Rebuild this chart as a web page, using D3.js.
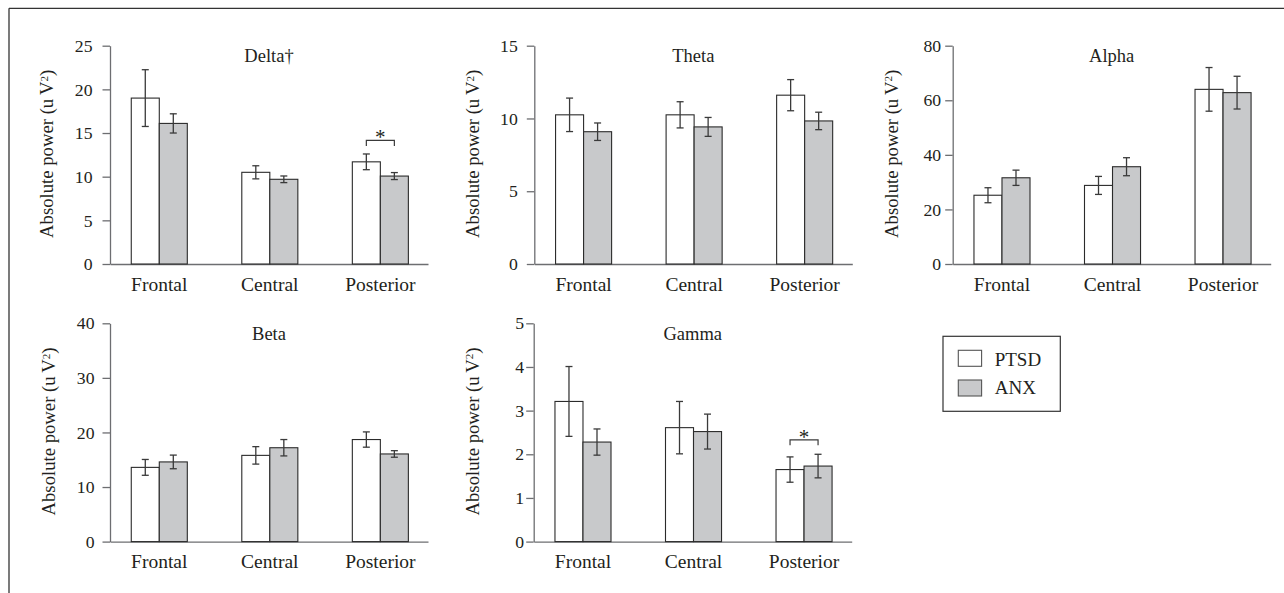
<!DOCTYPE html>
<html>
  <head>
    <meta charset="utf-8">
    <title>Absolute power by region, PTSD vs ANX</title>
    <script src="https://d3js.org/d3.v7.min.js"></script>
    <style>
      body { margin: 0; background: #fff; }
      svg text { font-family: "Liberation Serif", "Tinos", "Times New Roman", "DejaVu Serif", "Noto Serif", serif; fill: #231f20; }
    </style>
  </head>
  <body>
    <script>
        // data
        var regions = ["Frontal", "Central", "Posterior"];
        var groups = ["PTSD", "ANX"];
        var bandNames = ["Delta\u2020", "Theta", "Alpha", "Beta", "Gamma"];
        var yMax = [25, 15, 80, 40, 5];
        var yStep = [5, 5, 20, 10, 1];

        var ptsdMean = [[19.0, 10.5, 11.7], [10.25, 10.25, 11.6], [25.2, 28.8, 64.0], [13.6, 15.8, 18.7], [3.21, 2.61, 1.65]];
        var ptsdErr  = [[3.25, 0.75, 0.9], [1.15, 0.9, 1.07], [2.75, 3.3, 8.0], [1.45, 1.6, 1.4], [0.8, 0.6, 0.29]];
        var anxMean  = [[16.1, 9.7, 10.07], [9.09, 9.42, 9.83], [31.6, 35.65, 62.8], [14.6, 17.2, 16.06], [2.28, 2.52, 1.73]];
        var anxErr   = [[1.1, 0.38, 0.4], [0.6, 0.65, 0.6], [2.8, 3.3, 6.0], [1.25, 1.5, 0.6], [0.3, 0.4, 0.27]];

        // significance brackets: panel index, region, bracket height (data units)
        var sigPanel = [0, 4];
        var sigRegion = ["Posterior", "Posterior"];
        var sigLevel = [14.15, 2.33];

        // layout
        var panelX = [110, 534.3, 952.7, 110, 533.7];
        var panelY = [45.7, 45.7, 45.7, 323.3, 323.3];
        var tickPad = [10, 9, 4, 8, 2];
        var plotW = 318, plotH = 218.3;

        var svg = d3.select("body").append("svg")
            .attr("width", 1284)
            .attr("height", 593);

        // frame lines
        svg.append("line").attr("x1", 9).attr("x2", 1284).attr("y1", 8.3).attr("y2", 8.3)
            .attr("stroke", "#333").attr("stroke-width", 1.3);
        svg.append("line").attr("x1", 9).attr("x2", 9).attr("y1", 8.3).attr("y2", 593)
            .attr("stroke", "#333").attr("stroke-width", 1.3);

        var fills = {PTSD: "#ffffff", ANX: "#c8c9cb"};

        bandNames.forEach(function(name, p) {
            var g = svg.append("g")
                .attr("transform", "translate(" + panelX[p] + "," + panelY[p] + ")");

            var y = d3.scaleLinear().domain([0, yMax[p]]).range([plotH, 0]);
            var x0 = d3.scaleBand().domain(regions).range([0, plotW])
                .paddingInner(0.493).paddingOuter(0.185).align(0.52);
            var x1 = d3.scaleBand().domain(groups).range([0, x0.bandwidth()]);

            // y axis
            var yAxis = g.append("g")
                .call(d3.axisLeft(y).tickValues(d3.range(0, yMax[p] + 0.001, yStep[p]))
                    .tickFormat(d3.format("d"))
                    .tickSize(7.5).tickSizeOuter(0).tickPadding(tickPad[p]))
                .attr("font-family", null);
            yAxis.select(".domain").attr("stroke", "#6d6e71").attr("stroke-width", 1.3);
            yAxis.selectAll(".tick line").attr("stroke", "#6d6e71").attr("stroke-width", 1.3);
            yAxis.selectAll("text").attr("font-size", "17.7px").attr("fill", "#231f20");

            // x axis
            var xAxis = g.append("g")
                .attr("transform", "translate(0," + plotH + ")")
                .call(d3.axisBottom(x0).tickSize(0).tickSizeOuter(0).tickPadding(13))
                .attr("font-family", null);
            xAxis.select(".domain").attr("stroke", "#6d6e71").attr("stroke-width", 1.3);
            xAxis.selectAll("text").attr("font-size", "19.5px").attr("fill", "#231f20");

            // bars
            var rows = regions.map(function(r, i) {
                return {region: r, values: [
                    {group: "PTSD", mean: ptsdMean[p][i], err: ptsdErr[p][i]},
                    {group: "ANX", mean: anxMean[p][i], err: anxErr[p][i]}
                ]};
            });

            var grp = g.selectAll(".grp").data(rows).enter().append("g")
                .attr("transform", function(d) { return "translate(" + x0(d.region) + ",0)"; });

            grp.selectAll("rect").data(function(d) { return d.values; }).enter().append("rect")
                .attr("x", function(d) { return x1(d.group); })
                .attr("width", x1.bandwidth())
                .attr("y", function(d) { return y(d.mean); })
                .attr("height", function(d) { return plotH - y(d.mean); })
                .attr("fill", function(d) { return fills[d.group]; })
                .attr("stroke", "#2b2b2b")
                .attr("stroke-width", 1.1);

            // error bars
            var eb = grp.selectAll(".err").data(function(d) { return d.values; }).enter().append("g")
                .attr("transform", function(d) { return "translate(" + (x1(d.group) + x1.bandwidth() / 2) + ",0)"; })
                .attr("stroke", "#3a3a3a").attr("stroke-width", 1.3);
            eb.append("line")
                .attr("y1", function(d) { return y(d.mean + d.err); })
                .attr("y2", function(d) { return y(d.mean - d.err); });
            eb.append("line").attr("x1", -3.5).attr("x2", 3.5)
                .attr("y1", function(d) { return y(d.mean + d.err); })
                .attr("y2", function(d) { return y(d.mean + d.err); });
            eb.append("line").attr("x1", -3.5).attr("x2", 3.5)
                .attr("y1", function(d) { return y(d.mean - d.err); })
                .attr("y2", function(d) { return y(d.mean - d.err); });

            // title
            g.append("text")
                .attr("x", plotW / 2)
                .attr("y", 16.7)
                .attr("text-anchor", "middle")
                .attr("font-size", "18.5px")
                .text(name);

            // y label
            var yl = g.append("text")
                .attr("text-anchor", "middle")
                .attr("transform", "translate(" + (p === 0 ? -57 : -55) + "," + (plotH / 2 - 1) + ") rotate(-90)")
                .attr("font-size", "18.7px");
            yl.append("tspan").text("Absolute power (u\u2009V");
            yl.append("tspan").attr("font-size", "11px").attr("dy", "-0.5em").text("2");
            yl.append("tspan").attr("dy", "0.3em").text(")");

            // significance
            sigPanel.forEach(function(sp, k) {
                if (sp !== p) return;
                var bx = x0(sigRegion[k]);
                var xa = bx + x1("PTSD") + x1.bandwidth() / 2;
                var xb = bx + x1("ANX") + x1.bandwidth() / 2;
                var yy = y(sigLevel[k]);
                g.append("path")
                    .attr("d", "M" + xa + "," + (yy + 5.5) + "V" + yy + "H" + xb + "V" + (yy + 5.5))
                    .attr("fill", "none").attr("stroke", "#3a3a3a").attr("stroke-width", 1.2);
                g.append("text")
                    .attr("x", (xa + xb) / 2)
                    .attr("y", yy + 4)
                    .attr("text-anchor", "middle")
                    .attr("font-size", "21px")
                    .text("*");
            });
        });

        // legend
        var lg = svg.append("g");
        lg.append("rect").attr("x", 943).attr("y", 336.3).attr("width", 117.3).attr("height", 75)
            .attr("fill", "none").attr("stroke", "#333").attr("stroke-width", 1.2);
        groups.forEach(function(gname, i) {
            lg.append("rect")
                .attr("x", 958.3).attr("y", 350.3 + i * 29.7)
                .attr("width", 23.3).attr("height", 16)
                .attr("fill", fills[gname]).attr("stroke", "#555").attr("stroke-width", 1.1);
            lg.append("text")
                .attr("x", 994.7).attr("y", 366 + i * 28.3)
                .attr("font-size", "19px")
                .text(gname);
        });
    </script>
  </body>
</html>
